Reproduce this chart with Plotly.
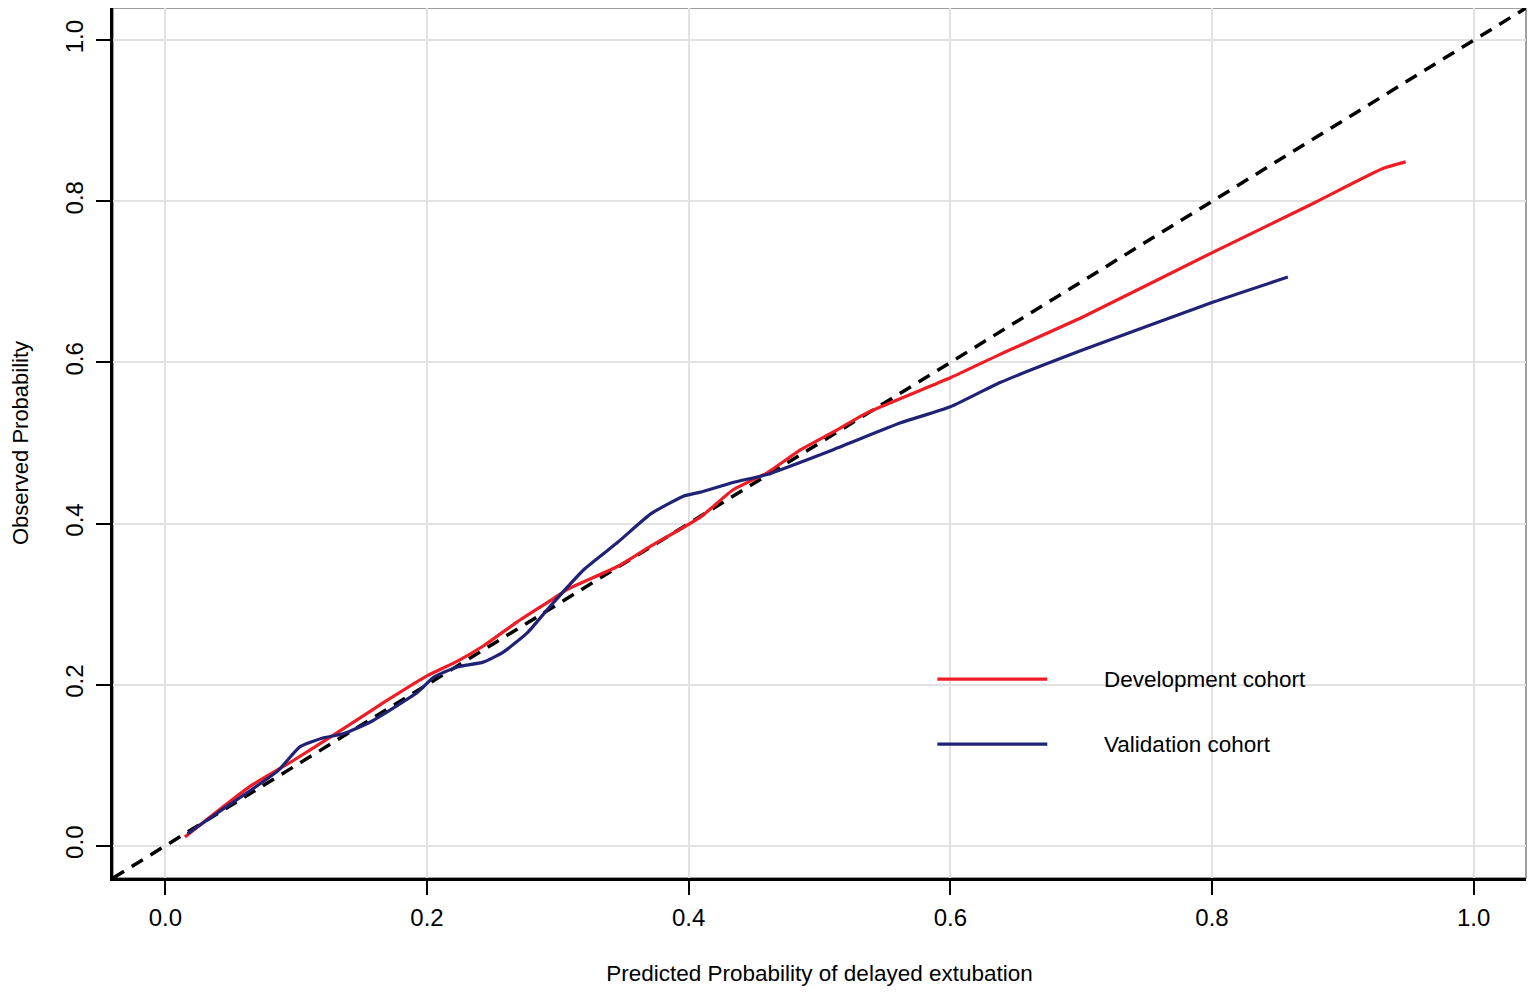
import plotly.graph_objects as go

# Development cohort calibration curve
dev_x = [0.015, 0.065, 0.096, 0.132, 0.167, 0.200, 0.223, 0.243, 0.269, 0.294, 0.307,
         0.346, 0.371, 0.409, 0.434, 0.460, 0.486, 0.511, 0.537, 0.600, 0.638, 0.702,
         0.801, 0.878, 0.931, 0.948]
dev_y = [0.011, 0.074, 0.104, 0.141, 0.178, 0.211, 0.229, 0.248, 0.278, 0.304, 0.318,
         0.347, 0.372, 0.408, 0.442, 0.463, 0.492, 0.514, 0.538, 0.581, 0.610, 0.657,
         0.737, 0.798, 0.841, 0.849]

# Validation cohort calibration curve
val_x = [0.017, 0.040, 0.086, 0.103, 0.121, 0.136, 0.157, 0.193, 0.205, 0.223, 0.243,
         0.258, 0.277, 0.294, 0.320, 0.346, 0.371, 0.396, 0.409, 0.434, 0.460, 0.511,
         0.562, 0.600, 0.638, 0.702, 0.801, 0.858]
val_y = [0.015, 0.041, 0.093, 0.123, 0.134, 0.139, 0.154, 0.191, 0.209, 0.222, 0.228,
         0.240, 0.265, 0.297, 0.343, 0.377, 0.412, 0.434, 0.439, 0.451, 0.461, 0.492,
         0.525, 0.545, 0.575, 0.616, 0.675, 0.706]

# Ideal (y = x) reference line
ref_x = [-0.04, 1.04]
ref_y = [-0.04, 1.04]

tick_vals = [0.0, 0.2, 0.4, 0.6, 0.8, 1.0]
tick_text = ["0.0", "0.2", "0.4", "0.6", "0.8", "1.0"]

legend_names = ["Development cohort", "Validation cohort"]

RED = "#ee1c25"
NAVY = "#1f2275"
FONT = "Liberation Sans, Arial, sans-serif"

fig = go.Figure()
fig.add_trace(go.Scatter(x=ref_x, y=ref_y, mode="lines",
                         line=dict(color="black", width=3.5, dash="13px,9px"),
                         showlegend=False, hoverinfo="skip"))
fig.add_trace(go.Scatter(x=dev_x, y=dev_y, mode="lines", name=legend_names[0],
                         line=dict(color=RED, width=3.2, shape="spline", smoothing=0.5),
                         showlegend=False))
fig.add_trace(go.Scatter(x=val_x, y=val_y, mode="lines", name=legend_names[1],
                         line=dict(color=NAVY, width=3.2, shape="spline", smoothing=0.5),
                         showlegend=False))

axis_common = dict(
    range=[-0.04, 1.04],
    tickvals=tick_vals,
    ticktext=tick_text,
    showgrid=True,
    gridcolor="#e2e2e2",
    gridwidth=1.5,
    zeroline=False,
    showline=True,
    linecolor="black",
    linewidth=2.5,
    ticks="outside",
    ticklen=14,
    tickwidth=2,
    tickcolor="black",
    tickfont=dict(family=FONT, size=24, color="black"),
)

fig.update_layout(
    width=1535,
    height=994,
    autosize=False,
    margin=dict(l=105, r=17, t=0, b=124),
    plot_bgcolor="white",
    paper_bgcolor="white",
    font=dict(family=FONT, color="black"),
    xaxis=dict(**axis_common, ticklabelstandoff=2,
               title=dict(text="Predicted Probability of delayed extubation",
                          font=dict(family=FONT, size=22.5, color="black"), standoff=36)),
    yaxis=dict(**axis_common, tickangle=-90, ticklabelstandoff=4,
               title=dict(text="Observed Probability",
                          font=dict(family=FONT, size=22, color="black"), standoff=34)),
)

# gray box on top/right
fig.add_shape(type="rect", xref="paper", yref="paper", x0=0, y0=0, x1=1, y1=1,
              line=dict(color="#808080", width=1.5), layer="below")

# legend drawn R-style inside the plot
leg_colors = [RED, NAVY]
leg_y = [0.2285, 0.1538]
for name, col, yy in zip(legend_names, leg_colors, leg_y):
    fig.add_shape(type="line", xref="paper", yref="paper", x0=0.5834, x1=0.6612,
                  y0=yy, y1=yy, line=dict(color=col, width=3.2))
    fig.add_annotation(xref="paper", yref="paper", x=0.7001, y=yy, text=name,
                       showarrow=False, xanchor="left", yanchor="middle",
                       font=dict(family=FONT, size=22.5, color="black"))

fig.write_html("out.html")
